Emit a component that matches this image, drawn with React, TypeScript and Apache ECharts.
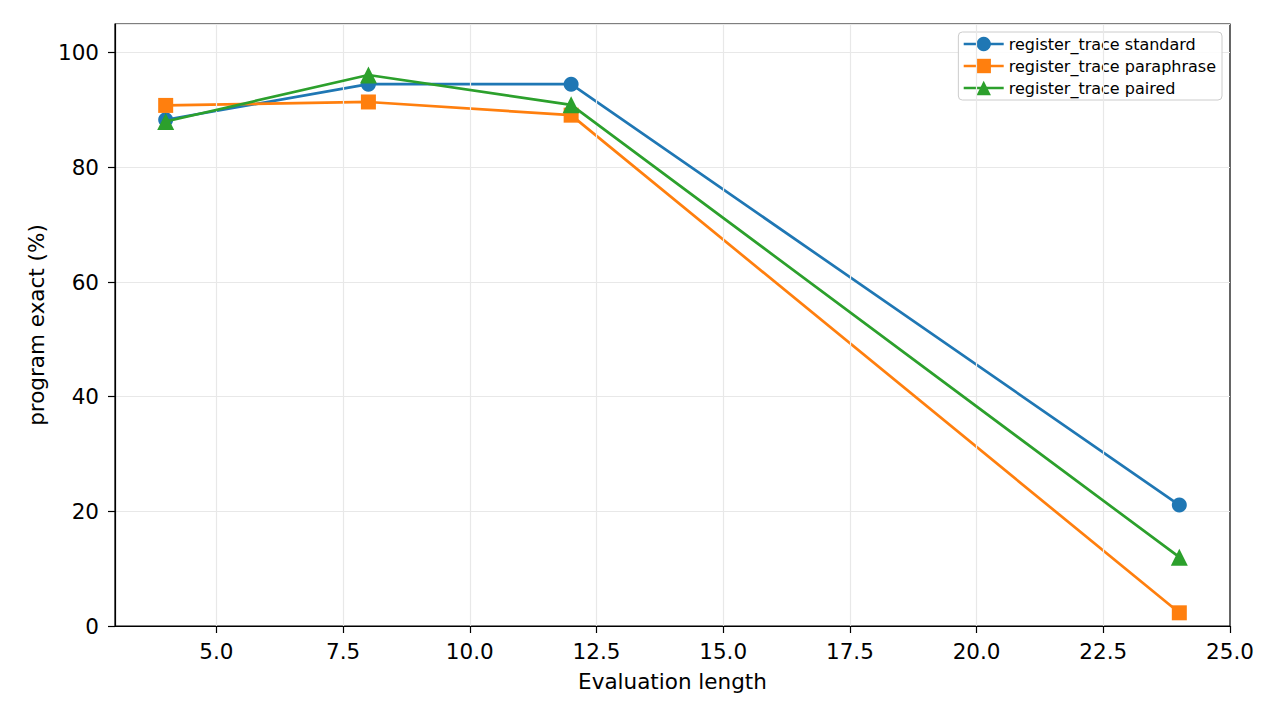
import React, { useEffect, useRef } from "react";
import * as echarts from "echarts";

const xValues = [4, 8, 12, 24];
const standard = [88.3, 94.5, 94.5, 21.1];
const paraphrase = [90.8, 91.4, 89.1, 2.3];
const paired = [88.0, 96.1, 90.9, 12.0];
const xTicks = [5, 7.5, 10, 12.5, 15, 17.5, 20, 22.5, 25];
const seriesNames = ["register_trace standard", "register_trace paraphrase", "register_trace paired"];
const colors = ["#1f77b4", "#ff7f0e", "#2ca02c"];

const FONT = "DejaVu Sans";

export default function App() {
  const ref = useRef<HTMLDivElement>(null);
  useEffect(() => {
    if (!ref.current) return;
    const chart = echarts.init(ref.current, undefined, { renderer: "svg" });
    const mk = (vals: number[]) => xValues.map((x, i) => [x, vals[i]]);
    const datasets = [standard, paraphrase, paired];
    const symbols = ["circle", "rect", "triangle"];
    const sizes = [15, 15, 17];
    chart.setOption({
      animation: false,
      backgroundColor: "#ffffff",
      textStyle: { fontFamily: FONT },
      grid: {
        left: 115,
        right: 50,
        top: 24,
        bottom: 94,
        show: true,
        borderColor: "#000",
        borderWidth: 1.2,
        backgroundColor: "transparent",
      },
      legend: {
        orient: "vertical",
        right: 58,
        top: 32,
        itemWidth: 40,
        itemHeight: 18,
        itemGap: 6,
        padding: [4, 6, 4, 4],
        borderColor: "#cccccc",
        borderWidth: 1,
        borderRadius: 4,
        backgroundColor: "rgba(255,255,255,0.85)",
        lineStyle: { width: 2.7 },
        textStyle: { fontFamily: FONT, fontSize: 16, color: "#000" },
        data: seriesNames,
      },
      xAxis: {
        type: "value",
        min: 3,
        max: 25,
        name: "Evaluation length",
        nameLocation: "middle",
        nameGap: 44,
        nameTextStyle: { fontFamily: FONT, fontSize: 21.5, color: "#000" },
        axisLine: { show: true, onZero: false, lineStyle: { color: "#000", width: 1.2 } },
        axisTick: { show: true, length: 7, lineStyle: { color: "#000", width: 1.2 }, customValues: xTicks },
        axisLabel: {
          fontFamily: FONT,
          fontSize: 21.5,
          color: "#000",
          margin: 14,
          customValues: xTicks,
          formatter: (v: number) => v.toFixed(1),
        },
        splitLine: { show: false },
      },
      yAxis: {
        type: "value",
        min: 0,
        max: 105,
        interval: 20,
        name: "program exact (%)",
        nameLocation: "middle",
        nameGap: 66,
        nameTextStyle: { fontFamily: FONT, fontSize: 21.5, color: "#000" },
        axisLine: { show: true, lineStyle: { color: "#000", width: 1.2 } },
        axisTick: { show: true, length: 7, lineStyle: { color: "#000", width: 1.2 } },
        axisLabel: { fontFamily: FONT, fontSize: 21.5, color: "#000", margin: 16, showMaxLabel: false },
        splitLine: { show: true, lineStyle: { color: "#e8e8e8", width: 1.2 } },
      },
      series: [
        {
          type: "line",
          name: "__grid",
          data: [],
          silent: true,
          markLine: {
            silent: true,
            symbol: "none",
            label: { show: false },
            lineStyle: { color: "#e8e8e8", width: 1.2, type: "solid" },
            data: xTicks.slice(0, -1).map((v) => ({ xAxis: v })),
          },
          z: 0,
        },
        ...datasets.map((d, i) => ({
          type: "line",
          name: seriesNames[i],
          data: mk(d),
          symbol: symbols[i],
          symbolSize: sizes[i],
          showAllSymbol: true,
          color: colors[i],
          lineStyle: { color: colors[i], width: 2.7 },
          itemStyle: { color: colors[i] },
          z: 3 + i,
        })),
      ],
    });
    return () => chart.dispose();
  }, []);
  return (
    <div
      ref={ref}
      style={{ position: "fixed", left: 0, top: 0, width: 1280, height: 720, background: "#fff" }}
    />
  );
}
